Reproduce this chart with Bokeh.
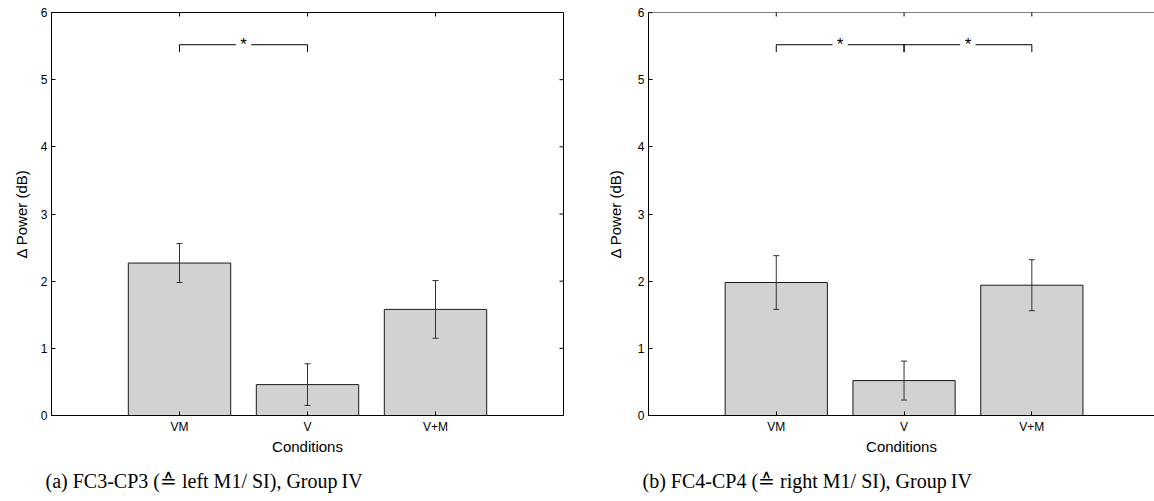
from bokeh.plotting import figure
from bokeh.layouts import row
from bokeh.models import (FixedTicker, Range1d, Whisker, ColumnDataSource,
                          TeeHead, Title, Span)
from bokeh.embed import file_html
from bokeh.resources import INLINE
from bokeh.core.properties import value

categories = ["VM", "V", "V+M"]
left_mean = [2.27, 0.46, 1.58]
left_err = [0.29, 0.31, 0.43]
right_mean = [1.98, 0.52, 1.94]
right_err = [0.40, 0.29, 0.38]
left_sig = [(0, 1)]
right_sig = [(0, 1), (1, 2)]
y_ticks = [0, 1, 2, 3, 4, 5, 6]
captions = ["(a) FC3-CP3 (\u2259 left M1/ SI), Group\u2009IV",
            "(b) FC4-CP4 (\u2259 right M1/ SI), Group\u2009IV"]
y_label = "\u0394 Power (dB)"
x_label = "Conditions"

SANS = "Liberation Sans"
SERIF = "Liberation Serif"


def style_axis(ax):
    ax.major_tick_in = 4
    ax.major_tick_out = 0
    ax.minor_tick_in = 0
    ax.minor_tick_out = 0
    ax.axis_line_color = "black"
    ax.major_tick_line_color = "black"
    ax.axis_line_width = 1
    ax.major_label_text_font = SANS
    ax.major_label_text_font_size = "12px"
    ax.major_label_text_color = "black"
    ax.axis_label_text_font = SANS
    ax.axis_label_text_font_style = "normal"
    ax.axis_label_text_font_size = "15px"
    ax.axis_label_text_color = "black"


def make_panel(mean, err, sig, caption, width, x_end, bl, br, closed, ystand):
    xs = list(range(1, len(categories) + 1))
    p = figure(width=width, height=501, x_range=Range1d(0, x_end),
               y_range=Range1d(0, 6), output_backend="svg",
               toolbar_location=None, min_border_left=bl, min_border_right=br,
               min_border_top=12, min_border_bottom=86)
    p.grid.visible = False
    p.outline_line_color = "black" if closed else None
    p.background_fill_color = "white"
    p.border_fill_color = "white"

    src = ColumnDataSource(dict(
        x=xs, top=mean,
        upper=[m + e for m, e in zip(mean, err)],
        lower=[m - e for m, e in zip(mean, err)]))
    p.vbar(x="x", top="top", bottom=0, width=0.8, source=src,
           fill_color="#d2d2d2", line_color="#1a1a1a", line_width=1)
    wh = Whisker(base="x", upper="upper", lower="lower", source=src,
                 line_color="#333333", line_width=1, level="overlay",
                 upper_head=TeeHead(size=6, line_color="#333333", line_width=1),
                 lower_head=TeeHead(size=6, line_color="#333333", line_width=1))
    p.add_layout(wh)

    # inward ticks on the top (and right) edges
    tick_y = 4 / 67.17
    tick_x = 4 / 128.0
    p.segment(x0=xs, y0=[y_ticks[-1]] * len(xs), x1=xs,
              y1=[y_ticks[-1] - tick_y] * len(xs), line_color="black", line_width=1)
    if closed:
        p.segment(x0=[x_end] * len(y_ticks), y0=y_ticks,
                  x1=[x_end - tick_x] * len(y_ticks), y1=y_ticks,
                  line_color="black", line_width=1)
    else:
        p.add_layout(Span(location=y_ticks[-1], dimension="width",
                          line_color="black", line_width=1, level="overlay"))

    # significance brackets
    y1, y0, g = 5.52, 5.41, 0.06
    seg_x, seg_y, sx, sy = [], [], [], []
    for a, b in sig:
        xa, xb = xs[a], xs[b]
        xm = (xa + xb) / 2
        seg_x += [[xa, xa], [xa, xm - g], [xm + g, xb], [xb, xb]]
        seg_y += [[y0, y1], [y1, y1], [y1, y1], [y1, y0]]
        sx.append(xm)
        sy.append(y1)
    p.multi_line(xs=seg_x, ys=seg_y, line_color="black", line_width=1)
    p.text(x=sx, y=sy, text=["*"] * len(sx), text_align="center",
           text_baseline="middle", text_font=value(SANS),
           text_font_size="17px", text_color="black")

    xa = p.xaxis[0]
    xa.ticker = FixedTicker(ticks=xs)
    xa.major_label_overrides = {x: c for x, c in zip(xs, categories)}
    xa.axis_label = x_label
    xa.axis_label_standoff = 1
    xa.major_label_standoff = 4
    style_axis(xa)

    ya = p.yaxis[0]
    ya.ticker = FixedTicker(ticks=y_ticks)
    ya.axis_label = y_label
    ya.axis_label_standoff = ystand
    ya.major_label_standoff = 4
    style_axis(ya)

    cap = Title(text=caption, text_font=SERIF, text_font_size="20px",
                text_font_style="normal", text_color="black", align="left",
                offset=-6, standoff=20)
    p.add_layout(cap, "below")
    return p


p1 = make_panel(left_mean, left_err, left_sig, captions[0], 577, 4.0, 51, 14, True, 8)
p2 = make_panel(right_mean, right_err, right_sig, captions[1], 577, 3.96, 71, 0, False, 11)

layout = row(p1, p2)
open("out.html", "w").write(file_html(layout, INLINE))
